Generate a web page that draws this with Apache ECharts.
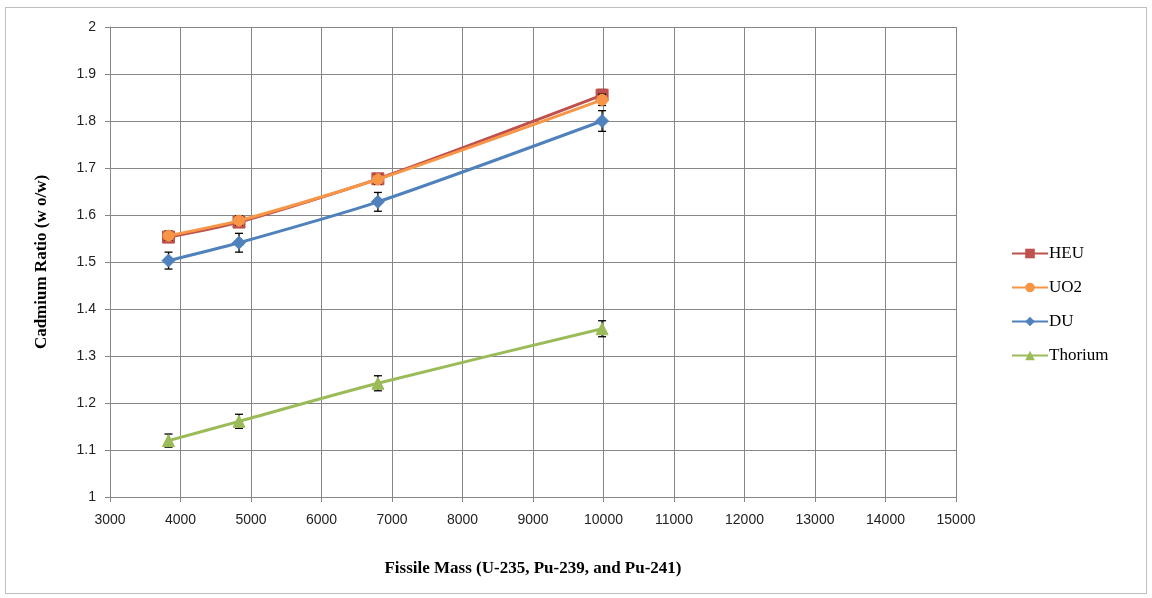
<!DOCTYPE html>
<html>
<head>
<meta charset="utf-8">
<script src="https://cdn.jsdelivr.net/npm/echarts@6/dist/echarts.min.js"></script>
<style>
  html, body { margin: 0; padding: 0; background: #fff; }
  #main { width: 1152px; height: 598px; }
  #frame { position: absolute; left: 5px; top: 7px; width: 1142px; height: 587px; border: 1px solid #bfbfbf; box-sizing: border-box; pointer-events: none; }
</style>
</head>
<body>
<div id="main"></div>
<div id="frame"></div>
<script>
// fissile mass (x) for each measured configuration
const mass = [3830, 4830, 6800, 9980];

// cadmium ratio per fuel type
const heu = [1.553, 1.585, 1.677, 1.855];
const uo2 = [1.556, 1.588, 1.676, 1.845];
const du = [1.503, 1.541, 1.628, 1.800];
const thorium = [1.120, 1.161, 1.242, 1.358];

// +/- uncertainty on each point
const heuErr = [0.010, 0.010, 0.010, 0.012];
const uo2Err = [0.010, 0.010, 0.010, 0.012];
const duErr = [0.018, 0.020, 0.020, 0.022];
const thoriumErr = [0.014, 0.015, 0.016, 0.017];

const names = ['HEU', 'UO2', 'DU', 'Thorium'];
const colors = ['#C0504D', '#F79646', '#4F81BD', '#9BBB59'];
const symbols = ['rect', 'circle', 'diamond', 'triangle'];
const symbolSizes = [12, 11, 13, 12];

const values = [heu, uo2, du, thorium];
const errors = [heuErr, uo2Err, duErr, thoriumErr];

function pairs(ys) {
  return mass.map(function (x, i) { return [x, ys[i]]; });
}

function errorBars(ys, es) {
  return mass.map(function (x, i) { return [x, ys[i] - es[i], ys[i] + es[i]]; });
}

function renderErr(params, api) {
  const lo = api.coord([api.value(0), api.value(1)]);
  const hi = api.coord([api.value(0), api.value(2)]);
  const w = 4;
  const st = { stroke: '#000', lineWidth: 1.3 };
  return {
    type: 'group',
    children: [
      { type: 'line', shape: { x1: lo[0], y1: lo[1], x2: hi[0], y2: hi[1] }, style: st },
      { type: 'line', shape: { x1: lo[0] - w, y1: lo[1], x2: lo[0] + w, y2: lo[1] }, style: st },
      { type: 'line', shape: { x1: hi[0] - w, y1: hi[1], x2: hi[0] + w, y2: hi[1] }, style: st }
    ]
  };
}

const series = [];
values.forEach(function (ys, k) {
  series.push({
    name: names[k],
    type: 'line',
    data: pairs(ys),
    smooth: 0.25,
    symbol: symbols[k],
    symbolSize: symbolSizes[k],
    color: colors[k],
    lineStyle: { color: colors[k], width: 3 },
    itemStyle: { color: colors[k], borderColor: colors[k] },
    z: 2 + k * 2
  });
  series.push({
    name: names[k] + ' error',
    type: 'custom',
    renderItem: renderErr,
    data: errorBars(ys, errors[k]),
    encode: { x: 0, y: [1, 2] },
    silent: true,
    z: 1 + k * 2
  });
});

const chart = echarts.init(document.getElementById('main'));
chart.setOption({
  animation: false,
  backgroundColor: '#fff',
  grid: { left: 110, right: 196, top: 27, bottom: 101 },
  legend: {
    data: names,
    orient: 'vertical',
    left: 1006,
    top: 240,
    itemGap: 17,
    itemWidth: 36,
    itemHeight: 12,
    textStyle: { fontFamily: 'Liberation Serif', fontSize: 17, color: '#000', padding: [0, 0, 0, -4] }
  },
  xAxis: {
    type: 'value',
    min: 3000,
    max: 15000,
    interval: 1000,
    name: 'Fissile Mass (U-235, Pu-239, and Pu-241)',
    nameLocation: 'middle',
    nameGap: 63,
    nameTextStyle: { fontFamily: 'Liberation Serif', fontWeight: 'bold', fontSize: 17, color: '#000' },
    axisLine: { onZero: false, lineStyle: { color: '#868686', width: 1 } },
    axisTick: { show: true, length: 5, lineStyle: { color: '#868686' } },
    axisLabel: {
      fontFamily: 'Liberation Sans', fontSize: 14, color: '#222', margin: 16,
      formatter: function (v) { return String(v); }
    },
    splitLine: { show: true, lineStyle: { color: '#868686', width: 1 } }
  },
  yAxis: {
    type: 'value',
    min: 1,
    max: 2,
    interval: 0.1,
    name: 'Cadmium Ratio (w o/w)',
    nameLocation: 'middle',
    nameGap: 60,
    nameTextStyle: { fontFamily: 'Liberation Serif', fontWeight: 'bold', fontSize: 17, color: '#000' },
    axisLine: { show: true, lineStyle: { color: '#868686', width: 1 } },
    axisTick: { show: true, length: 5, lineStyle: { color: '#868686' } },
    axisLabel: {
      fontFamily: 'Liberation Sans', fontSize: 14, color: '#222', margin: 14,
      formatter: function (v) { return String(Math.round(v * 10) / 10); }
    },
    splitLine: { show: true, lineStyle: { color: '#868686', width: 1 } }
  },
  series: series
});
</script>
</body>
</html>
